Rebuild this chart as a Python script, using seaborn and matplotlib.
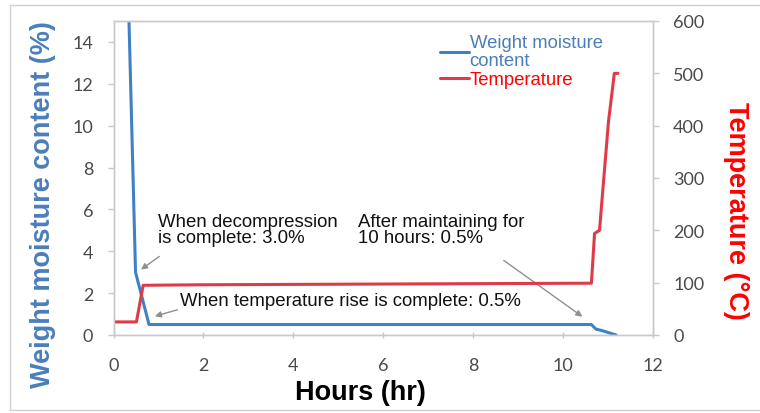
import matplotlib
matplotlib.use("Agg")
import matplotlib.pyplot as plt
import seaborn as sns
import pandas as pd
from matplotlib.lines import Line2D

# ---- data ----
moist_hours = [0.32, 0.49, 0.79, 10.63, 10.73, 10.85, 11.0, 11.18]
moist_pct = [17.0, 3.0, 0.5, 0.5, 0.28, 0.22, 0.12, 0.0]
temp_hours = [0.0, 0.51, 0.66, 2.0, 10.63, 10.70, 10.81, 11.01, 11.14, 11.22]
temp_c = [25, 25, 95, 96, 99, 194, 200, 408, 500, 500]
x_ticks = [0, 2, 4, 6, 8, 10, 12]
y_left_ticks = [0, 2, 4, 6, 8, 10, 12, 14]
y_right_ticks = [0, 100, 200, 300, 400, 500, 600]

sns.set_style("white")
plt.rcParams["font.family"] = ["Liberation Sans", "DejaVu Sans"]

W, H = 760, 414
fig = plt.figure(figsize=(W / 100, H / 100), dpi=100)
ax = fig.add_axes([113.5 / W, 1 - 336 / H, (653 - 113.5) / W, (336 - 22) / H])
ax2 = ax.twinx()

blue = "#3f82c4"
red = "#de3a47"
df_m = pd.DataFrame({"h": moist_hours, "m": moist_pct})
df_t = pd.DataFrame({"h": temp_hours, "t": temp_c})
sns.lineplot(data=df_m, x="h", y="m", ax=ax, color=blue, lw=2.2, estimator=None, sort=False)
sns.lineplot(data=df_t, x="h", y="t", ax=ax2, color=red, lw=2.2, estimator=None, sort=False)

ax.set_xlim(0, 12)
ax.set_ylim(0, 15)
ax2.set_ylim(0, 600)
ax.set_xticks(x_ticks)
ax.set_yticks(y_left_ticks)
ax2.set_yticks(y_right_ticks)
ax.set_xlabel("")
ax.set_ylabel("")
ax2.set_ylabel("")

tcol = "#4a4a4a"
for a in (ax, ax2):
    for s in a.spines.values():
        s.set_color("#c8c8c8")
        s.set_linewidth(1.0)
ax.tick_params(axis="y", direction="out", length=4, width=1, color="#c8c8c8",
               labelcolor=tcol, pad=10.5, left=True)
ax.tick_params(axis="x", direction="inout", length=5, width=1, color="#c8c8c8",
               labelcolor=tcol, pad=13, bottom=True)
ax2.tick_params(axis="y", direction="out", length=4, width=1, color="#c8c8c8",
                labelcolor=tcol, pad=10.5, right=True)
for lab in ax.get_xticklabels() + ax.get_yticklabels() + ax2.get_yticklabels():
    lab.set_fontfamily("Lato")
    lab.set_fontsize(13)

# axis titles
fig.text(43 / W, 1 - 205 / H, "Weight moisture content (%)", rotation=90,
         ha="center", va="center", fontsize=19.5, fontweight="bold", color="#4a7ebb")
fig.text(736 / W, 1 - 211 / H, "Temperature (°C)", rotation=270,
         ha="center", va="center", fontsize=19.5, fontweight="bold", color="#ff0000")
fig.text(360 / W, 1 - 393 / H, "Hours (hr)", ha="center", va="center",
         fontsize=19.5, fontweight="bold", color="black")

# annotations
acol = "#8f8f8f"
tfs = 13.4
ax.text(0.99, 5.84, "When decompression\nis complete: 3.0%", ha="left", va="top",
        fontsize=tfs, linespacing=0.95, color="#111111")
ax.annotate("", xy=(0.56, 3.05), xytext=(1.07, 3.83),
            arrowprops=dict(arrowstyle="-|>", color=acol, lw=1, mutation_scale=9))
ax.text(1.48, 1.63, "When temperature rise is complete: 0.5%", ha="left", va="center",
        fontsize=tfs, color="#111111",
        bbox=dict(fc="white", ec="none", pad=1))
ax.annotate("", xy=(0.86, 0.86), xytext=(1.48, 1.24),
            arrowprops=dict(arrowstyle="-|>", color=acol, lw=1, mutation_scale=9))
ax.text(5.43, 5.84, "After maintaining for\n10 hours: 0.5%", ha="left", va="top",
        fontsize=tfs, linespacing=0.95, color="#111111")
ax.annotate("", xy=(10.48, 0.80), xytext=(8.63, 3.64),
            arrowprops=dict(arrowstyle="-|>", color=acol, lw=1, mutation_scale=9))

# legend
handles = [Line2D([], [], color=blue, lw=2.2), Line2D([], [], color=red, lw=2.2)]
leg = ax.legend(handles, ["Weight moisture\ncontent", "Temperature"],
                loc="upper left", bbox_to_anchor=(440 / W, 1 - 35 / H),
                bbox_transform=fig.transFigure, frameon=False, fontsize=13.3,
                handlelength=1.55, handletextpad=0.05, labelspacing=0.1,
                borderpad=0, borderaxespad=0)
for txt, c in zip(leg.get_texts(), ["#4a7ebb", "#ff0000"]):
    txt.set_color(c)
    txt.set_linespacing(1.1)

# chart-area border
for (x0, y0, x1, y1) in [(10, 6, 760, 6), (10, 6, 10, 411), (10, 411, 760, 411)]:
    fig.add_artist(Line2D([x0 / W, x1 / W], [1 - y0 / H, 1 - y1 / H],
                          transform=fig.transFigure, color="#d0d0d0", lw=1))

fig.savefig("out.png", dpi=100, facecolor="white")
